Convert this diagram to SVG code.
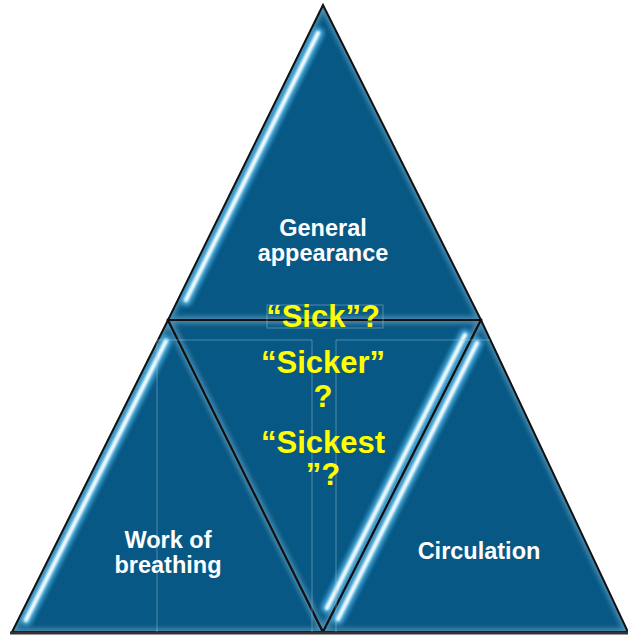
<svg xmlns="http://www.w3.org/2000/svg" width="628" height="635" viewBox="0 0 628 635">
<style>
.tri{fill:#075884}
.glow{fill:none;stroke:#8fc3df;stroke-width:7;opacity:0.5;filter:url(#b3)}
.hlo{stroke:#49aee0;stroke-width:12;stroke-linecap:round;filter:url(#b2);opacity:0.9}
.hli{stroke:#f2fcff;stroke-width:4.5;stroke-linecap:round;filter:url(#b1)}
.edge{fill:none;stroke:#111;stroke-width:2;stroke-linejoin:miter}
.lbl{font-family:"Liberation Sans",Arial,sans-serif;font-weight:bold;font-size:23.5px;fill:#fff;text-anchor:middle}
.q{font-family:"Liberation Sans",Arial,sans-serif;font-weight:bold;font-size:31px;fill:#ffff00;text-anchor:middle}
.frame{fill:none;stroke:#a9c7da;stroke-width:1;opacity:0.45}
</style>
<defs>
<filter id="b1" x="-20%" y="-20%" width="140%" height="140%"><feGaussianBlur stdDeviation="0.9"/></filter>
<filter id="b2" x="-20%" y="-20%" width="140%" height="140%"><feGaussianBlur stdDeviation="2"/></filter>
<filter id="b3" x="-20%" y="-20%" width="140%" height="140%"><feGaussianBlur stdDeviation="2.5"/></filter>
<clipPath id="cTop"><polygon points="323,5 168,320 481,320"/></clipPath>
<clipPath id="cLeft"><polygon points="168,320 12,632 323,632"/></clipPath>
<clipPath id="cMid"><polygon points="168,320 481,320 323,632"/></clipPath>
<clipPath id="cRight"><polygon points="481,320 323,632 628,632"/></clipPath>
</defs>

<g id="top">
<polygon class="tri" points="323,5 168,320 481,320"/>
<g clip-path="url(#cTop)">
<polygon class="glow" points="323,5 168,320 481,320"/>
<line class="hlo" x1="318" y1="33" x2="186" y2="300"/>
<line class="hli" x1="318" y1="33" x2="186" y2="300"/>
</g>
<polygon class="edge" points="323,5 168,320 481,320"/>
<text class="lbl" x="323" y="236">General</text>
<text class="lbl" x="323" y="261">appearance</text>
</g>

<g id="left">
<polygon class="tri" points="168,320 12,632 323,632"/>
<g clip-path="url(#cLeft)">
<polygon class="glow" points="168,320 12,632 323,632"/>
<line class="hlo" x1="166" y1="341" x2="26" y2="620"/>
<line class="hli" x1="166" y1="341" x2="26" y2="620"/>
</g>
<polygon class="edge" points="168,320 12,632 323,632"/>
<text class="lbl" x="168" y="548">Work of</text>
<text class="lbl" x="168" y="573">breathing</text>
</g>

<g id="middle">
<polygon class="tri" points="168,320 481,320 323,632"/>
<g clip-path="url(#cMid)">
<polygon class="glow" points="168,320 481,320 323,632"/>
<line class="hlo" x1="465" y1="335" x2="327" y2="608"/>
<line class="hli" x1="465" y1="335" x2="327" y2="608"/>
</g>
<polygon class="edge" points="168,320 481,320 323,632"/>
</g>

<g id="right">
<polygon class="tri" points="481,320 323,632 628,632"/>
<g clip-path="url(#cRight)">
<polygon class="glow" points="481,320 323,632 628,632"/>
<line class="hlo" x1="477" y1="343" x2="338" y2="619"/>
<line class="hli" x1="477" y1="343" x2="338" y2="619"/>
</g>
<polygon class="edge" points="481,320 323,632 628,632"/>
<text class="lbl" x="479" y="559">Circulation</text>
</g>

<g id="connectors">
<line x1="10" y1="633" x2="628" y2="633" stroke="#333" stroke-width="3"/>
</g>

<g id="frames">
<path class="frame" d="M157,632 V340 H312 V632 M336,632 V340 H490"/>
<rect class="frame" x="267" y="305" width="116" height="23"/>
</g>

<g id="center-text">
<text class="q" x="323" y="327">“Sick”?</text>
<text class="q" x="323" y="373">“Sicker”</text>
<text class="q" x="323" y="407">?</text>
<text class="q" x="323" y="453">“Sickest</text>
<text class="q" x="323" y="485">”?</text>
</g>
</svg>
